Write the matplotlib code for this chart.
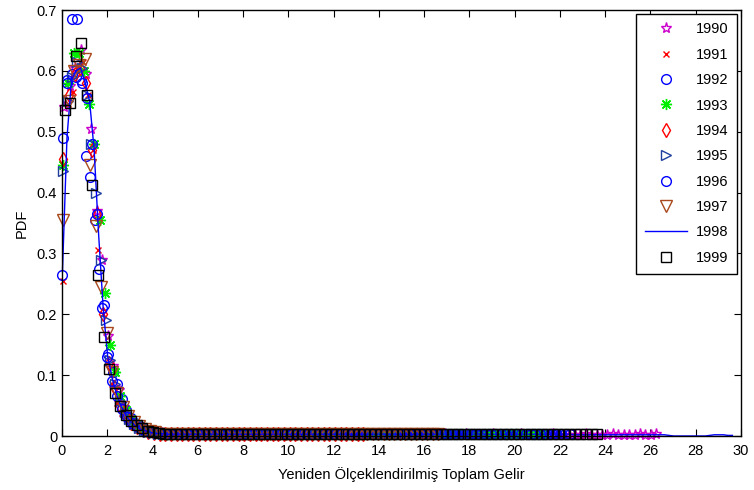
import matplotlib.pyplot as plt

plt.rcParams['font.family'] = ['Liberation Sans', 'DejaVu Sans']

# PDF values (in thousandths) per year, one value per income bin
years = ['1990', '1991', '1992', '1993', '1994', '1995', '1996', '1997', '1998', '1999']

# first bin centre and bin width of the rescaled income for each year
bin_start = [0.10, 0.03, 0.04, 0.05, 0.06, 0.04, 0.02, 0.05, 0.02, 0.12]
bin_width = [0.24, 0.22, 0.20, 0.23, 0.25, 0.21, 0.22, 0.24, 0.20, 0.245]

pdf_1990 = [540, 575, 605, 635, 595, 505, 370, 290, 165, 115, 75, 48, 32, 22, 15, 11, 8, 6, 5, 4,
            4, 4, 3, 3, 4, 3, 3, 3, 2, 3,
            3, 3, 2, 3, 3, 2, 3, 3, 2, 3,
            2, 3, 3, 2, 2, 3, 2, 3, 2, 2,
            3, 2, 2, 3, 2, 2, 3, 2, 2, 3,
            2, 2, 3, 2, 2, 2, 3, 2, 2, 2,
            3, 2, 2, 2, 3, 2, 2, 2, 2, 3,
            2, 2, 2, 2, 3, 2, 2, 2, 2, 2,
            3, 2, 2, 2, 2, 2, 3, 2, 2, 2,
            2, 3, 2, 2, 2, 2, 3, 2, 2, 3]
pdf_1991 = [255, 545, 565, 605, 615, 560, 470, 305, 200, 120, 85, 55, 38, 26, 18, 13, 9, 7, 5,
            5, 4, 4, 4, 3, 4, 3, 3, 4, 3,
            3, 3, 4, 3, 3, 3, 3, 4, 3, 3,
            3, 3, 3, 4, 3, 3, 3, 3, 3, 3,
            4, 3, 3, 3, 3, 3, 3, 4, 3, 3,
            3, 3, 3, 3, 4, 3, 3, 3]
pdf_1992 = [490, 585, 595, 590, 585, 460, 425, 355, 275, 215, 135, 105, 85, 60, 42, 30, 22, 16, 12, 9, 7, 5, 4,
            4, 4, 3, 4, 3, 3, 3, 4, 3, 3,
            3, 3, 3, 3, 4, 3, 3, 3, 3, 3,
            3, 3, 3, 3, 3, 4, 3, 3, 3, 3,
            3, 3, 3, 3, 3, 3, 3, 4, 3, 3,
            3, 3, 3, 3, 3, 3, 3, 3, 3, 4,
            3, 3, 3, 3, 3, 3, 3, 3, 3, 3,
            4, 3, 3, 3, 3, 3, 3, 3, 3, 3,
            3, 3, 4, 3, 3, 3, 3, 3, 3, 3,
            3, 3, 3, 3, 4, 3, 3, 3, 3, 3]
pdf_1993 = [445, 580, 630, 630, 600, 545, 480, 355, 235, 150, 105, 65, 42, 28, 19, 13, 9, 7, 5, 4,
            4, 3, 4, 3, 3, 3, 3, 4, 3, 3,
            3, 3, 3, 3, 3, 4, 3, 3, 3, 3,
            3, 3, 3, 3, 3, 3, 4, 3, 3, 3,
            3, 3, 3, 3, 3, 3, 3, 3, 4, 3,
            3, 3, 3, 3, 3, 3, 3, 3, 3, 3,
            4, 3, 3, 3, 3, 3, 3, 3, 3, 3,
            3, 4, 3, 3, 3, 3, 3, 3, 3, 3,
            3, 3, 3]
pdf_1994 = [455, 560, 595, 605, 580, 470, 365, 200, 120, 80, 50, 33, 22, 15, 10, 7, 5, 4,
            4, 4, 3, 3, 4, 3, 3, 3, 3, 4,
            3, 3, 3, 3, 3, 4, 3, 3, 3, 3,
            3, 3, 4, 3, 3, 3, 3, 3, 3, 3,
            4, 3, 3, 3, 3, 3]
pdf_1995 = [435, 550, 590, 615, 605, 560, 480, 400, 290, 190, 125, 85, 58, 40, 28, 19, 13, 9, 7, 5, 4,
            4, 3, 3, 4, 3, 3, 3, 3, 3, 4,
            3, 3, 3, 3, 3, 3, 4, 3, 3, 3,
            3, 3, 3, 3, 3, 4, 3, 3, 3, 3,
            3, 3, 3, 3, 3, 3, 3, 4, 3, 3,
            3, 3, 3, 3, 3, 3, 3, 3, 3, 4,
            3, 3, 3, 3, 3, 3, 3, 3, 3, 3,
            4, 3, 3, 3, 3, 3, 3, 3]
pdf_1996 = [265, 580, 685, 685, 580, 555, 480, 365, 210, 130, 90, 65, 45, 32, 22, 16, 11, 8, 6, 5, 4,
            4, 3, 3, 4, 3, 3, 3, 3, 4, 3,
            3, 3, 3, 3, 3, 4, 3, 3, 3, 3,
            3, 3, 3, 3, 3, 3, 4, 3, 3, 3,
            3, 3, 3, 3, 3, 3, 3, 3, 4, 3,
            3, 3, 3, 3, 3, 3, 3, 3, 3, 3,
            4, 3, 3, 3, 3, 3, 3, 3, 3, 3,
            3, 3, 4, 3, 3, 3, 3, 3, 3, 3,
            3, 3, 3, 3, 3, 4, 3, 3, 3]
pdf_1997 = [355, 550, 600, 610, 620, 445, 345, 245, 170, 105, 70, 48, 33, 23, 16, 11, 8, 6, 4,
            4, 4, 3, 4, 3, 3, 3, 4, 3, 3,
            3, 3, 4, 3, 3, 3, 3, 3, 4, 3,
            3, 3, 3, 3, 3, 4, 3, 3, 3, 3,
            3, 3, 3, 4, 3, 3, 3, 3, 3, 3,
            3, 4, 3, 3, 3, 3, 3, 3, 3, 3,
            3]
pdf_1998 = [270, 490, 585, 600, 605, 580, 550, 470, 330, 210, 130, 95, 68, 48, 34, 24, 17, 12, 9, 7, 5, 4,
            4, 3, 3, 3, 3, 3, 3, 3,
            3, 3, 3, 3, 3, 3, 3, 3, 3, 3,
            3, 3, 3, 3, 3, 3, 3, 3, 3, 3,
            3, 3, 3, 3, 3, 3, 3, 3, 3, 3,
            3, 3, 3, 3, 3, 3, 3, 3, 3, 3,
            3, 3, 3, 3, 3, 3, 3, 3, 3, 3,
            3, 3, 3, 3, 3, 3, 3, 3, 3, 3,
            3, 3, 3, 3, 3, 3, 3, 3, 3, 3,
            3, 3, 3, 3, 3, 3, 3, 3, 3, 3,
            3, 3, 3, 2, 2, 2, 2, 2, 2, 2,
            2, 2, 2, 2, 2, 2, 2, 2, 2, 2,
            2, 2, 2, 2, 1, 0, 0, 0, 0, 0,
            0, 0, 0, 1, 2, 2, 2, 1, 1]
pdf_1999 = [535, 548, 625, 645, 560, 412, 265, 162, 110, 70, 50, 35, 25, 18, 13, 9, 7, 5, 4,
            4, 4, 3, 4, 3, 3, 3, 4, 3, 3,
            3, 3, 3, 4, 3, 3, 3, 3, 3, 3,
            4, 3, 3, 3, 3, 3, 3, 3, 4, 3,
            3, 3, 3, 3, 3, 3, 3, 3, 3, 4,
            3, 3, 3, 3, 3, 3, 3, 3, 3, 3,
            4, 3, 3, 3, 3, 3, 3, 3, 3, 3,
            3, 3, 3, 4, 3, 3, 3, 3, 3, 3,
            3, 3, 3, 3, 3, 3, 3, 3]

pdfs = [pdf_1990, pdf_1991, pdf_1992, pdf_1993, pdf_1994,
        pdf_1995, pdf_1996, pdf_1997, pdf_1998, pdf_1999]

# MATLAB-like marker styles for each year
styles = [
    dict(marker='*', color='#cc00cc', ms=8, ls='none'),
    dict(marker='x', color='#ff0000', ms=5, ls='none'),
    dict(marker='o', color='#0000ff', ms=7, ls='none'),
    dict(marker=(8, 2, 0), color='#00ee00', ms=8, ls='none'),
    dict(marker='d', color='#ff0000', ms=7, ls='none'),
    dict(marker='>', color='#1f3f9f', ms=7, ls='none'),
    dict(marker='o', color='#0000ff', ms=7, ls='none'),
    dict(marker='v', color='#a8481c', ms=8, ls='none'),
    dict(marker='None', color='#0000ff', ls='-', lw=1.0),
    dict(marker='s', color='#000000', ms=7.5, ls='none'),
]

fig = plt.figure(figsize=(7.54, 4.9), dpi=100)
ax = fig.add_axes([62 / 754, 1 - 436 / 490, 679 / 754, 426 / 490])

for year, pdf, x0, w, st in zip(years, pdfs, bin_start, bin_width, styles):
    xs = [x0 + w * i for i in range(len(pdf))]
    ys = [v / 1000 for v in pdf]
    ax.plot(xs, ys, label=year, mfc='none', mew=1.0, clip_on=False, **st)

ax.set_xlim(0, 30)
ax.set_ylim(0, 0.7)
ax.set_xticks(range(0, 31, 2))
ax.set_yticks([0, 0.1, 0.2, 0.3, 0.4, 0.5, 0.6, 0.7])
ax.set_yticklabels(['0', '0.1', '0.2', '0.3', '0.4', '0.5', '0.6', '0.7'])
ax.tick_params(direction='in', top=True, right=True, length=5, labelsize=10.5)
ax.tick_params(axis='x', pad=6)
for sp in ax.spines.values():
    sp.set_linewidth(1.0)

ax.set_xlabel('Yeniden Ölçeklendirilmiş Toplam Gelir', fontsize=10.5, labelpad=6)
ax.set_ylabel('PDF', fontsize=10.5, labelpad=6)

leg = ax.legend(loc='upper right', bbox_to_anchor=(1.0, 1.0), borderaxespad=0.25,
                fancybox=False, framealpha=1, edgecolor='black', fontsize=10.5,
                handlelength=2.9, handletextpad=0.6, labelspacing=0.78, borderpad=0.6)
leg.get_frame().set_linewidth(1.0)

fig.savefig('out.png', dpi=100)
